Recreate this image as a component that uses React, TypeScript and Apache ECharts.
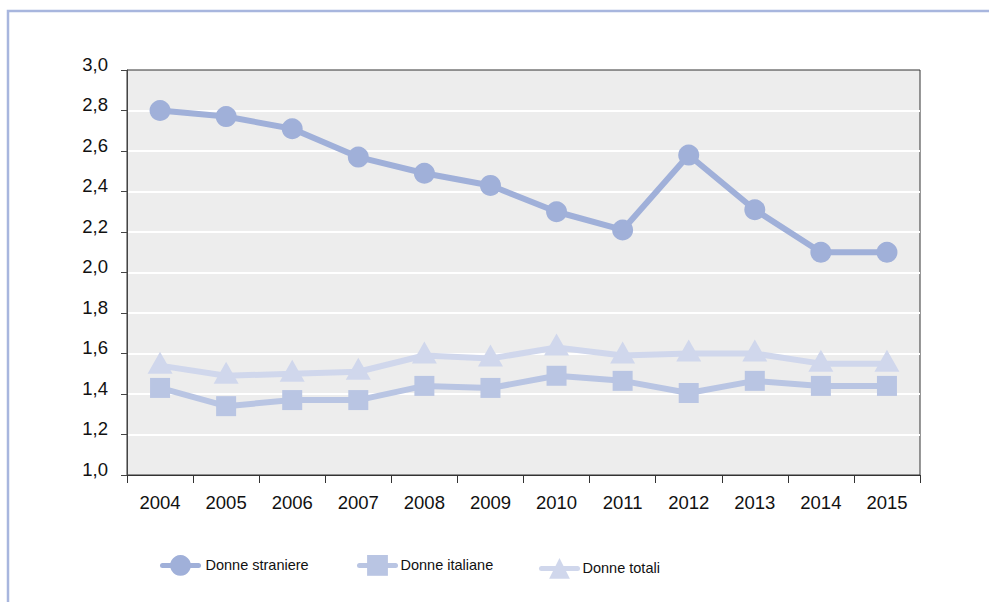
import React, { useEffect, useRef } from "react";
import * as echarts from "echarts";

const years = ["2004", "2005", "2006", "2007", "2008", "2009", "2010", "2011", "2012", "2013", "2014", "2015"];
const straniere = [2.8, 2.77, 2.71, 2.57, 2.49, 2.43, 2.3, 2.21, 2.58, 2.31, 2.1, 2.1];
const italiane = [1.43, 1.34, 1.37, 1.37, 1.44, 1.43, 1.49, 1.465, 1.405, 1.465, 1.44, 1.44];
const totali = [1.54, 1.49, 1.5, 1.51, 1.59, 1.575, 1.63, 1.59, 1.6, 1.6, 1.55, 1.55];

const names = ["Donne straniere", "Donne italiane", "Donne totali"];
const colors = ["#a0b0d9", "#b9c5e3", "#d0d7ec"];

const FONT = "'Liberation Sans', Arial, Helvetica, sans-serif";

export default function App() {
  const ref = useRef<HTMLDivElement>(null);
  useEffect(() => {
    if (!ref.current) return;
    const chart = echarts.init(ref.current, undefined, { renderer: "svg" });
    const legendBase = {
      itemWidth: 36,
      itemHeight: 26,
      padding: 0,
      orient: "horizontal",
      selectedMode: false,
      lineStyle: { width: 5, cap: "round" },
      textStyle: { fontFamily: FONT, fontSize: 14.5, color: "#111" },
    };
    chart.setOption({
      animation: false,
      backgroundColor: "#ffffff",
      graphic: [
        {
          type: "rect",
          silent: true,
          shape: { x: 8, y: 11, width: 1200, height: 900 },
          style: { fill: "none", stroke: "#a8b6de", lineWidth: 2.5 },
        },
      ],
      legend: [
        { ...legendBase, data: [names[0]], left: 160, top: 555, textStyle: { ...legendBase.textStyle, padding: [0, 0, 0, 2] } },
        { ...legendBase, data: [names[1]], left: 357, top: 555, textStyle: { ...legendBase.textStyle, padding: [0, 0, 0, 0] } },
        { ...legendBase, data: [names[2]], left: 539, top: 558, textStyle: { ...legendBase.textStyle, padding: [0, 0, 0, 0] } },
      ],
      grid: {
        left: 127,
        right: 69,
        top: 70,
        bottom: 127,
        show: true,
        backgroundColor: "#ededed",
        borderColor: "#333",
        borderWidth: 1,
        containLabel: false,
        outerBoundsMode: "none",
      },
      xAxis: {
        type: "category",
        data: years,
        boundaryGap: true,
        axisLine: { show: true, lineStyle: { color: "#333", width: 1 } },
        axisTick: { show: true, length: 8, interval: 0, lineStyle: { color: "#333" } },
        axisLabel: { fontFamily: FONT, fontSize: 18.5, color: "#111", margin: 18, interval: 0 },
        splitLine: { show: false },
      },
      yAxis: {
        type: "value",
        min: 1,
        max: 3,
        interval: 0.2,
        axisLine: { show: true, lineStyle: { color: "#444", width: 1 } },
        axisTick: { show: true, length: 6, lineStyle: { color: "#444" } },
        axisLabel: {
          fontFamily: FONT,
          fontSize: 18.5,
          color: "#111",
          margin: 19,
          verticalAlign: "bottom",
          lineHeight: 12,
          formatter: (v: number) => v.toFixed(1).replace(".", ","),
        },
        splitLine: { show: true, showMinLine: false, showMaxLine: false, lineStyle: { color: "#ffffff", width: 2 } },
      },
      series: [
        {
          name: names[0],
          type: "line",
          data: straniere,
          symbol: "circle",
          symbolSize: 21,
          color: colors[0],
          lineStyle: { width: 6, color: colors[0] },
          itemStyle: { color: colors[0] },
          emphasis: { disabled: true },
          z: 4,
        },
        {
          name: names[1],
          type: "line",
          data: italiane,
          symbol: "rect",
          symbolSize: 20,
          color: colors[1],
          lineStyle: { width: 6, color: colors[1] },
          itemStyle: { color: colors[1] },
          emphasis: { disabled: true },
          z: 2,
        },
        {
          name: names[2],
          type: "line",
          data: totali,
          symbol: "triangle",
          symbolSize: [25, 22],
          symbolOffset: [0, -3],
          color: colors[2],
          lineStyle: { width: 6, color: colors[2] },
          itemStyle: { color: colors[2] },
          emphasis: { disabled: true },
          z: 3,
        },
      ],
    });
    return () => chart.dispose();
  }, []);
  return <div ref={ref} style={{ position: "fixed", left: 0, top: 0, width: 989, height: 602 }} />;
}
